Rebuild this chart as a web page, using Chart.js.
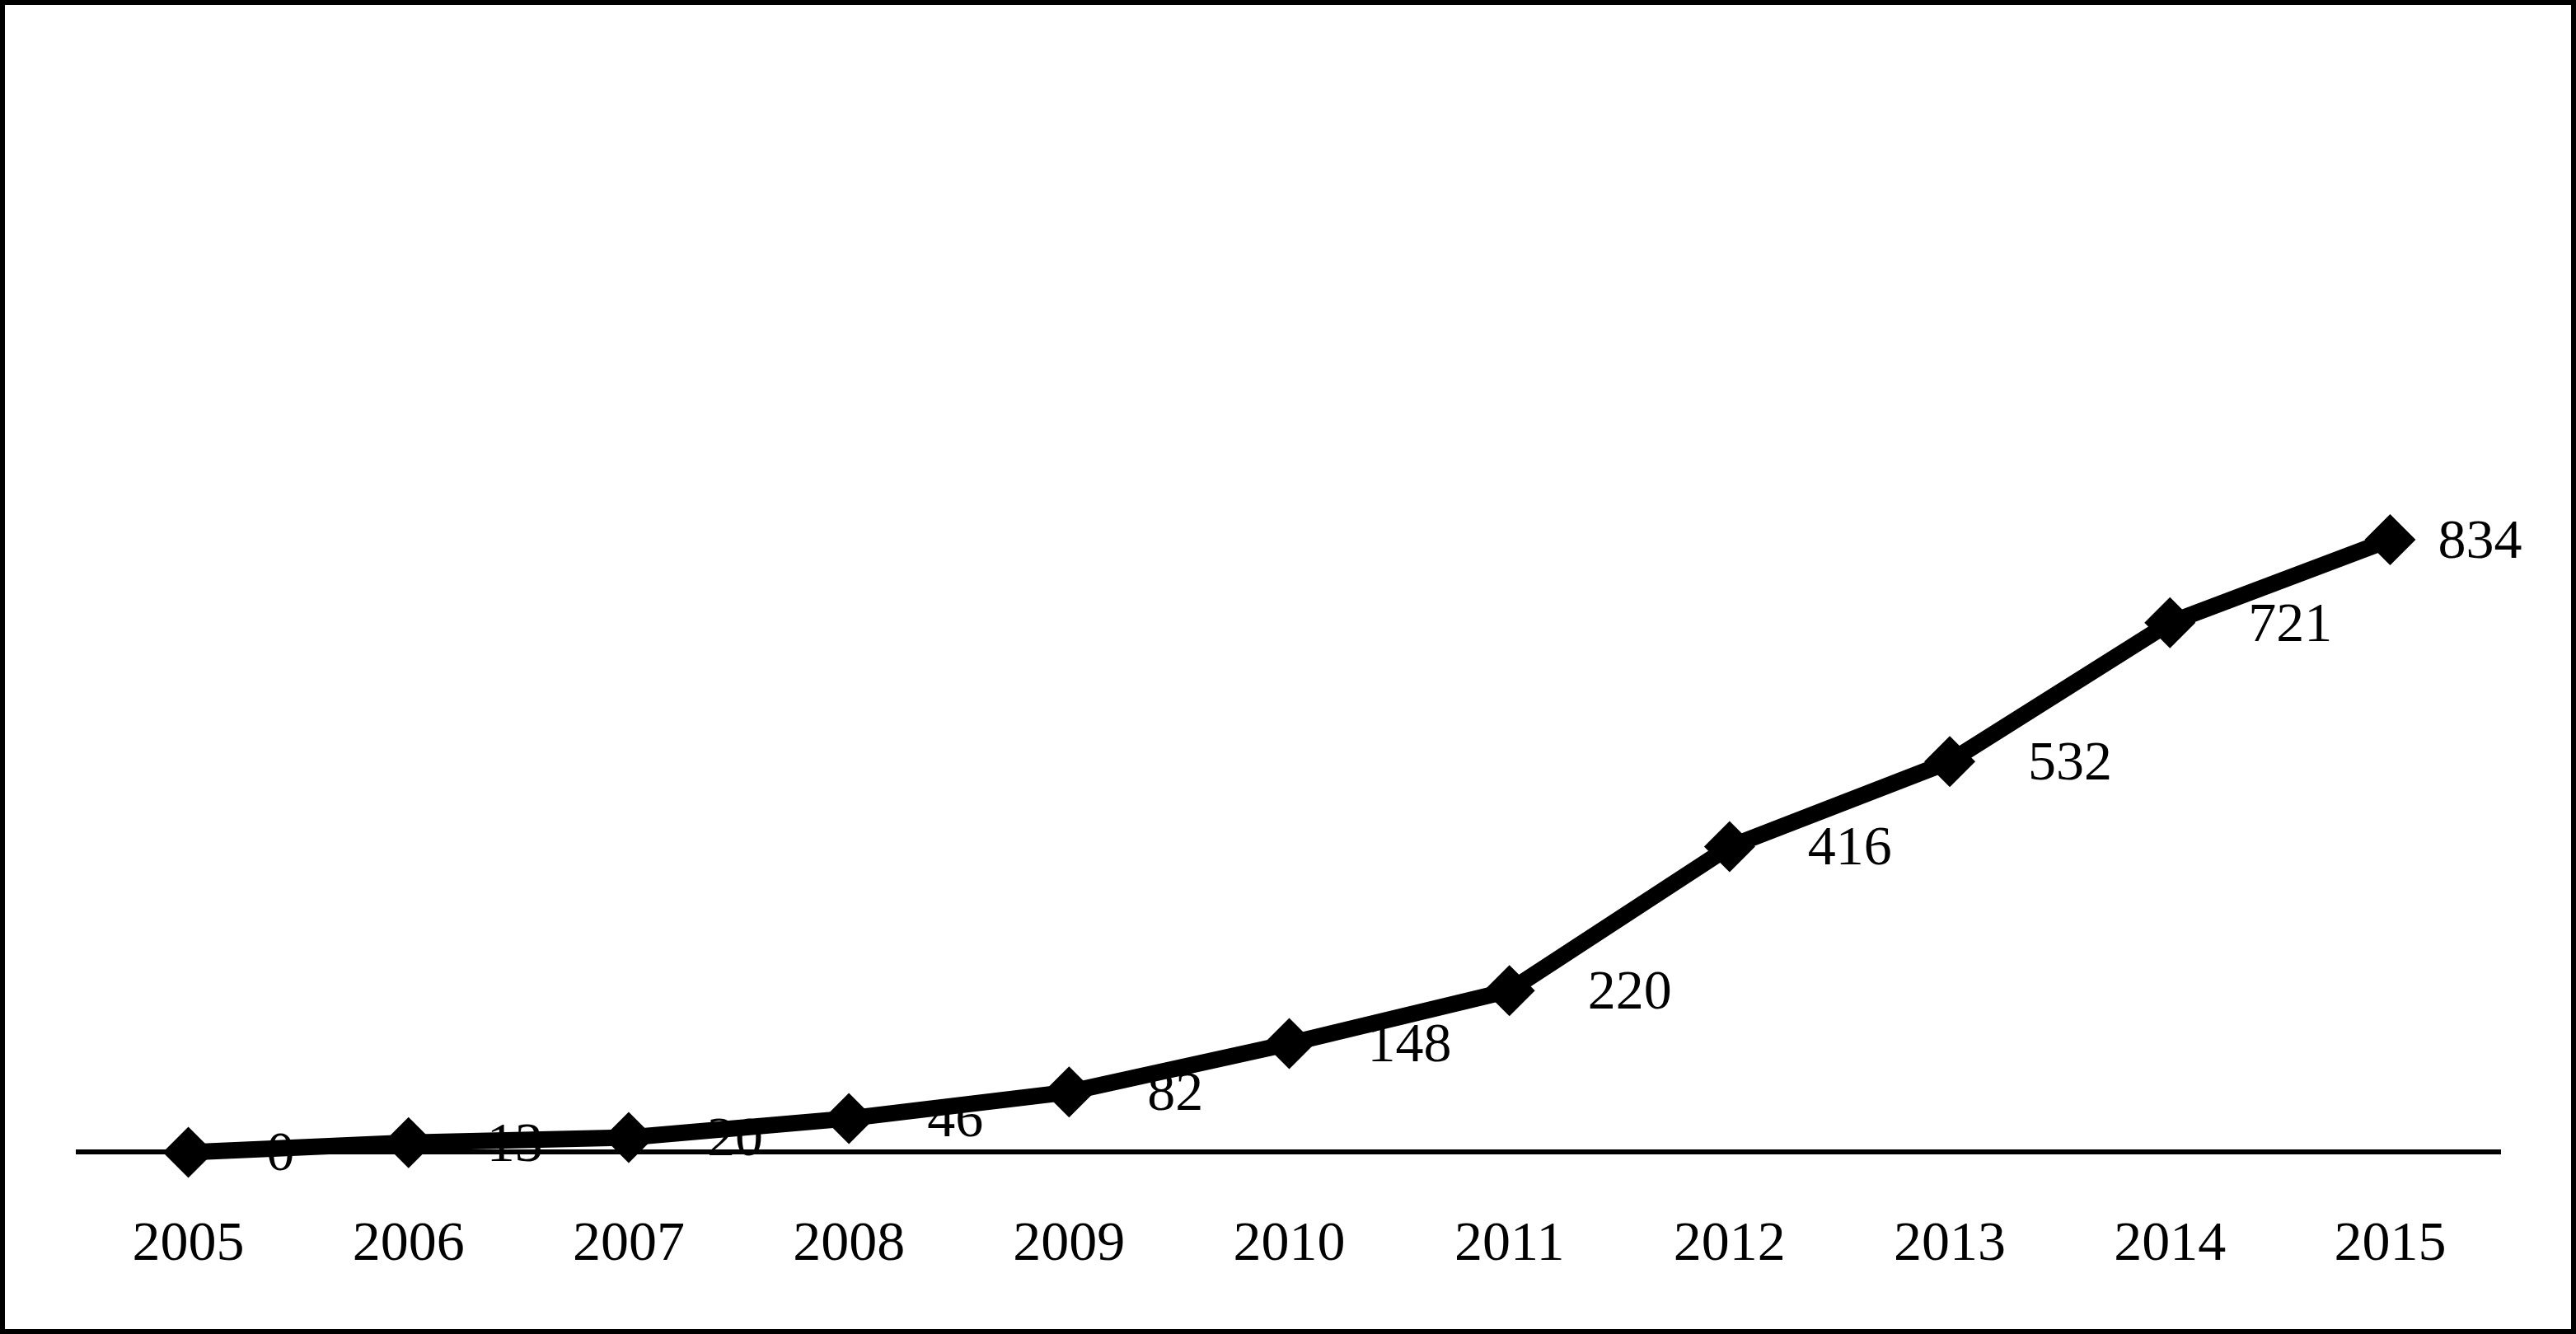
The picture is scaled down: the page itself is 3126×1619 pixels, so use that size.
<!DOCTYPE html>
<html>
<head>
<meta charset="utf-8">
<script src="https://cdn.jsdelivr.net/npm/chart.js"></script>
<style>
  html, body { margin: 0; padding: 0; background: #fff; }
  #frame {
    width: 3126px; height: 1619px; box-sizing: border-box;
    border: 6px solid #000; background: #fff;
  }
  #chart { display: block; }
</style>
</head>
<body>
<div id="frame"><canvas id="chart" width="3114" height="1607"></canvas></div>
<script>
// ===== data =====
const years = ["2005", "2006", "2007", "2008", "2009", "2010", "2011", "2012", "2013", "2014", "2015"];
const counts = [0, 13, 20, 46, 82, 148, 220, 416, 532, 721, 834];

// value labels to the right of each point
const pointLabels = {
    id: "pointLabels",
    afterDatasetsDraw(chart) {
        const ctx = chart.ctx;
        const meta = chart.getDatasetMeta(0);
        ctx.save();
        ctx.font = "68px 'Liberation Serif', 'Times New Roman', serif";
        ctx.fillStyle = "#000";
        ctx.textAlign = "left";
        ctx.textBaseline = "middle";
        meta.data.forEach(function (pt, i) {
            const dx = i === meta.data.length - 1 ? 58 : 95;
            ctx.fillText(String(counts[i]), pt.x + dx, pt.y + 4);
        });
        ctx.restore();
    }
};

new Chart(document.getElementById("chart"), {
    type: "line",
    data: {
        labels: years,
        datasets: [{
            data: counts,
            clip: false,
            borderColor: "#000",
            borderWidth: 20,
            tension: 0,
            pointStyle: "rectRot",
            pointRadius: 31,
            pointBackgroundColor: "#000",
            pointBorderColor: "#000",
            pointBorderWidth: 0
        }]
    },
    options: {
        responsive: false,
        animation: false,
        devicePixelRatio: 1,
        layout: { padding: { left: 89, right: 86, top: 501, bottom: -11 } },
        plugins: {
            legend: { display: false },
            tooltip: { enabled: false }
        },
        scales: {
            x: {
                offset: true,
                grid: { display: false, drawTicks: false },
                border: { display: true, color: "#000", width: 6 },
                ticks: {
                    color: "#000",
                    padding: 72,
                    font: { family: "'Liberation Serif', 'Times New Roman', serif", size: 68 }
                }
            },
            y: {
                display: false,
                min: 0,
                max: 1000
            }
        }
    },
    plugins: [pointLabels]
});
</script>
</body>
</html>
